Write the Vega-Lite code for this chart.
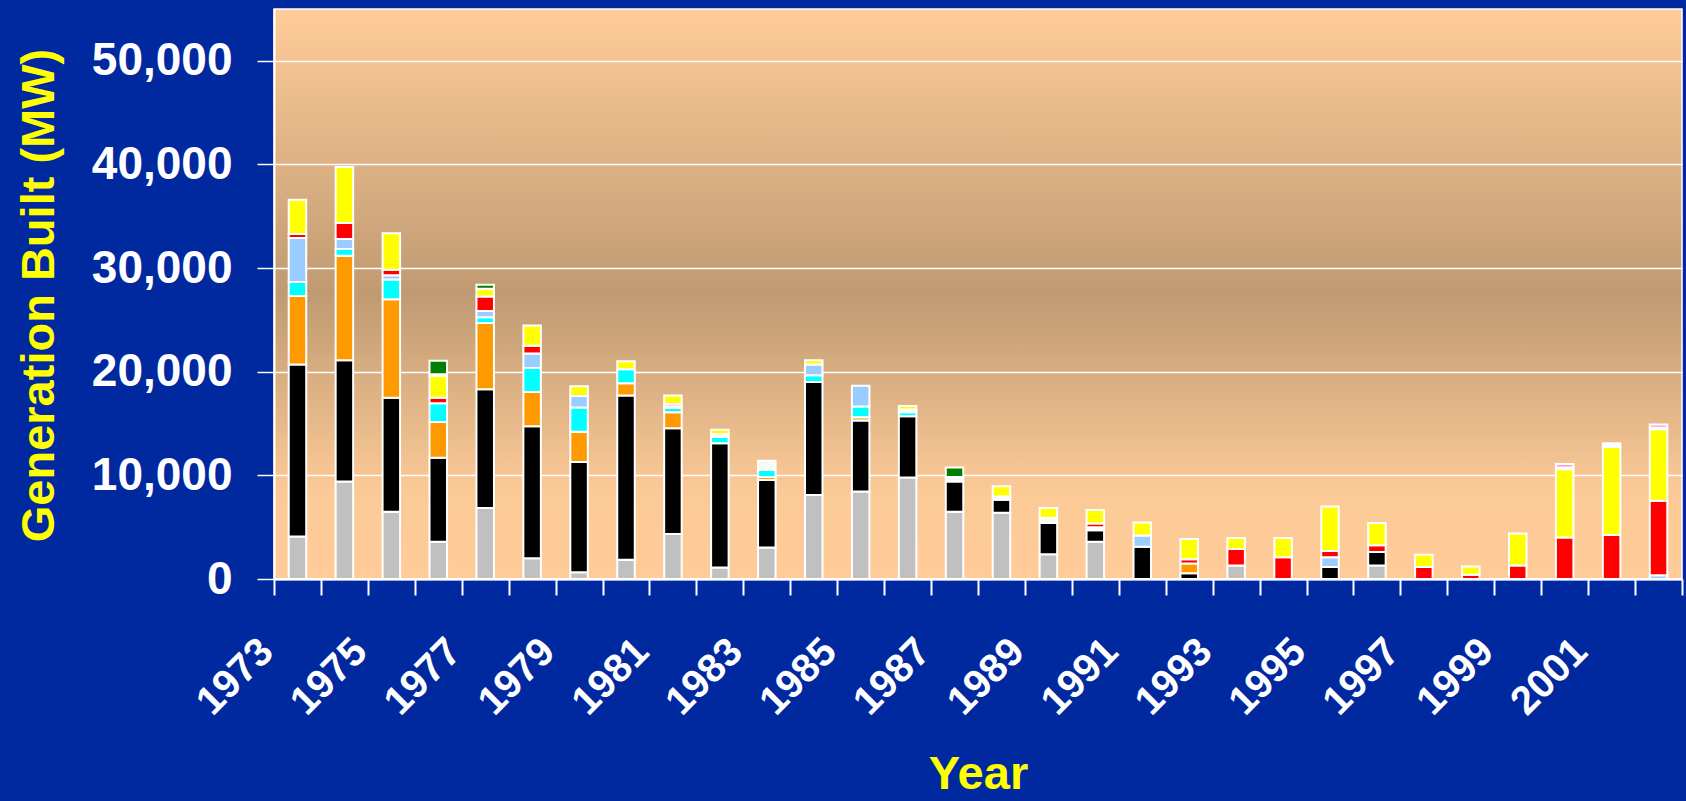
{
  "$schema": "https://vega.github.io/schema/vega-lite/v6.json",
  "width": 1408,
  "height": 570,
  "autosize": {"type": "none"},
  "padding": {"left": 274, "top": 9, "right": 4, "bottom": 222},
  "background": "#00289F",
  "config": {
    "view": {
      "fill": {"gradient": "linear", "x1": 0, "y1": 0, "x2": 0, "y2": 1,
        "stops": [
          {"offset": 0, "color": "#FFCC99"},
          {"offset": 0.5, "color": "#C09A72"},
          {"offset": 0.85, "color": "#FCCA97"},
          {"offset": 1, "color": "#FFCC99"}
        ]},
      "stroke": "#FFFFFF",
      "strokeWidth": 1.5
    },
    "font": "Liberation Sans"
  },
  "data": {
    "values": [
      {"year": 1973, "type": "Nuclear", "mw": 4100},
      {"year": 1973, "type": "Coal", "mw": 16600},
      {"year": 1973, "type": "Oil", "mw": 6600},
      {"year": 1973, "type": "Hydro", "mw": 1350},
      {"year": 1973, "type": "Pumped Storage", "mw": 4250},
      {"year": 1973, "type": "Combined Cycle", "mw": 400},
      {"year": 1973, "type": "Combustion Turbine", "mw": 3300},
      {"year": 1974, "type": "Nuclear", "mw": 9400},
      {"year": 1974, "type": "Coal", "mw": 11700},
      {"year": 1974, "type": "Oil", "mw": 10100},
      {"year": 1974, "type": "Hydro", "mw": 650},
      {"year": 1974, "type": "Pumped Storage", "mw": 950},
      {"year": 1974, "type": "Combined Cycle", "mw": 1550},
      {"year": 1974, "type": "Combustion Turbine", "mw": 5400},
      {"year": 1975, "type": "Nuclear", "mw": 6500},
      {"year": 1975, "type": "Coal", "mw": 11000},
      {"year": 1975, "type": "Oil", "mw": 9500},
      {"year": 1975, "type": "Hydro", "mw": 1900},
      {"year": 1975, "type": "Pumped Storage", "mw": 400},
      {"year": 1975, "type": "Combined Cycle", "mw": 550},
      {"year": 1975, "type": "Combustion Turbine", "mw": 3500},
      {"year": 1976, "type": "Nuclear", "mw": 3600},
      {"year": 1976, "type": "Coal", "mw": 8100},
      {"year": 1976, "type": "Oil", "mw": 3450},
      {"year": 1976, "type": "Hydro", "mw": 1800},
      {"year": 1976, "type": "Combined Cycle", "mw": 550},
      {"year": 1976, "type": "Combustion Turbine", "mw": 2100},
      {"year": 1976, "type": "Miscellaneous", "mw": 150},
      {"year": 1976, "type": "Geothermal", "mw": 1300},
      {"year": 1977, "type": "Nuclear", "mw": 6850},
      {"year": 1977, "type": "Coal", "mw": 11450},
      {"year": 1977, "type": "Oil", "mw": 6400},
      {"year": 1977, "type": "Hydro", "mw": 550},
      {"year": 1977, "type": "Pumped Storage", "mw": 600},
      {"year": 1977, "type": "Combined Cycle", "mw": 1400},
      {"year": 1977, "type": "Combustion Turbine", "mw": 750},
      {"year": 1977, "type": "Geothermal", "mw": 400},
      {"year": 1978, "type": "Nuclear", "mw": 2000},
      {"year": 1978, "type": "Coal", "mw": 12750},
      {"year": 1978, "type": "Oil", "mw": 3300},
      {"year": 1978, "type": "Hydro", "mw": 2300},
      {"year": 1978, "type": "Pumped Storage", "mw": 1400},
      {"year": 1978, "type": "Combined Cycle", "mw": 750},
      {"year": 1978, "type": "Combustion Turbine", "mw": 1950},
      {"year": 1979, "type": "Nuclear", "mw": 650},
      {"year": 1979, "type": "Coal", "mw": 10650},
      {"year": 1979, "type": "Oil", "mw": 2900},
      {"year": 1979, "type": "Hydro", "mw": 2350},
      {"year": 1979, "type": "Pumped Storage", "mw": 1100},
      {"year": 1979, "type": "Combustion Turbine", "mw": 950},
      {"year": 1980, "type": "Nuclear", "mw": 1850},
      {"year": 1980, "type": "Coal", "mw": 15850},
      {"year": 1980, "type": "Oil", "mw": 1200},
      {"year": 1980, "type": "Hydro", "mw": 1350},
      {"year": 1980, "type": "Combustion Turbine", "mw": 750},
      {"year": 1981, "type": "Nuclear", "mw": 4350},
      {"year": 1981, "type": "Coal", "mw": 10200},
      {"year": 1981, "type": "Oil", "mw": 1550},
      {"year": 1981, "type": "Hydro", "mw": 400},
      {"year": 1981, "type": "Pumped Storage", "mw": 150},
      {"year": 1981, "type": "Combined Cycle", "mw": 200},
      {"year": 1981, "type": "Combustion Turbine", "mw": 850},
      {"year": 1982, "type": "Nuclear", "mw": 1100},
      {"year": 1982, "type": "Coal", "mw": 12000},
      {"year": 1982, "type": "Hydro", "mw": 600},
      {"year": 1982, "type": "Other", "mw": 300},
      {"year": 1982, "type": "Combustion Turbine", "mw": 400},
      {"year": 1983, "type": "Nuclear", "mw": 3050},
      {"year": 1983, "type": "Coal", "mw": 6500},
      {"year": 1983, "type": "Oil", "mw": 300},
      {"year": 1983, "type": "Hydro", "mw": 700},
      {"year": 1983, "type": "Other", "mw": 850},
      {"year": 1984, "type": "Nuclear", "mw": 8100},
      {"year": 1984, "type": "Coal", "mw": 10900},
      {"year": 1984, "type": "Hydro", "mw": 650},
      {"year": 1984, "type": "Pumped Storage", "mw": 1050},
      {"year": 1984, "type": "Combustion Turbine", "mw": 400},
      {"year": 1985, "type": "Nuclear", "mw": 8450},
      {"year": 1985, "type": "Coal", "mw": 6850},
      {"year": 1985, "type": "Oil", "mw": 300},
      {"year": 1985, "type": "Hydro", "mw": 1050},
      {"year": 1985, "type": "Pumped Storage", "mw": 2000},
      {"year": 1986, "type": "Nuclear", "mw": 9800},
      {"year": 1986, "type": "Coal", "mw": 5900},
      {"year": 1986, "type": "Hydro", "mw": 400},
      {"year": 1986, "type": "Other", "mw": 250},
      {"year": 1986, "type": "Combustion Turbine", "mw": 350},
      {"year": 1987, "type": "Nuclear", "mw": 6500},
      {"year": 1987, "type": "Coal", "mw": 2900},
      {"year": 1987, "type": "Other", "mw": 450},
      {"year": 1987, "type": "Geothermal", "mw": 900},
      {"year": 1988, "type": "Nuclear", "mw": 6400},
      {"year": 1988, "type": "Coal", "mw": 1250},
      {"year": 1988, "type": "Other", "mw": 300},
      {"year": 1988, "type": "Combustion Turbine", "mw": 1000},
      {"year": 1989, "type": "Nuclear", "mw": 2400},
      {"year": 1989, "type": "Coal", "mw": 3000},
      {"year": 1989, "type": "Other", "mw": 500},
      {"year": 1989, "type": "Combustion Turbine", "mw": 950},
      {"year": 1990, "type": "Nuclear", "mw": 3600},
      {"year": 1990, "type": "Coal", "mw": 1100},
      {"year": 1990, "type": "Other", "mw": 300},
      {"year": 1990, "type": "Combined Cycle", "mw": 350},
      {"year": 1990, "type": "Combustion Turbine", "mw": 1300},
      {"year": 1991, "type": "Coal", "mw": 3100},
      {"year": 1991, "type": "Pumped Storage", "mw": 1100},
      {"year": 1991, "type": "Combustion Turbine", "mw": 1250},
      {"year": 1992, "type": "Coal", "mw": 550},
      {"year": 1992, "type": "Oil", "mw": 950},
      {"year": 1992, "type": "Combined Cycle", "mw": 400},
      {"year": 1992, "type": "Combustion Turbine", "mw": 1950},
      {"year": 1993, "type": "Nuclear", "mw": 1300},
      {"year": 1993, "type": "Combined Cycle", "mw": 1600},
      {"year": 1993, "type": "Combustion Turbine", "mw": 1050},
      {"year": 1994, "type": "Combined Cycle", "mw": 2100},
      {"year": 1994, "type": "Combustion Turbine", "mw": 1850},
      {"year": 1995, "type": "Coal", "mw": 1150},
      {"year": 1995, "type": "Pumped Storage", "mw": 950},
      {"year": 1995, "type": "Combined Cycle", "mw": 600},
      {"year": 1995, "type": "Combustion Turbine", "mw": 4300},
      {"year": 1996, "type": "Nuclear", "mw": 1300},
      {"year": 1996, "type": "Coal", "mw": 1300},
      {"year": 1996, "type": "Combined Cycle", "mw": 650},
      {"year": 1996, "type": "Combustion Turbine", "mw": 2150},
      {"year": 1997, "type": "Combined Cycle", "mw": 1150},
      {"year": 1997, "type": "Combustion Turbine", "mw": 1200},
      {"year": 1998, "type": "Combined Cycle", "mw": 400},
      {"year": 1998, "type": "Combustion Turbine", "mw": 800},
      {"year": 1999, "type": "Combined Cycle", "mw": 1300},
      {"year": 1999, "type": "Combustion Turbine", "mw": 3100},
      {"year": 2000, "type": "Combined Cycle", "mw": 4000},
      {"year": 2000, "type": "Combustion Turbine", "mw": 6600},
      {"year": 2000, "type": "Miscellaneous", "mw": 150},
      {"year": 2000, "type": "Wind", "mw": 350},
      {"year": 2001, "type": "Combined Cycle", "mw": 4250},
      {"year": 2001, "type": "Combustion Turbine", "mw": 8500},
      {"year": 2001, "type": "Miscellaneous", "mw": 350},
      {"year": 2002, "type": "Pumped Storage", "mw": 350},
      {"year": 2002, "type": "Combined Cycle", "mw": 7200},
      {"year": 2002, "type": "Combustion Turbine", "mw": 6900},
      {"year": 2002, "type": "Miscellaneous", "mw": 150},
      {"year": 2002, "type": "Wind", "mw": 300}
    ]
  },
  "transform": [
    {"calculate": "indexof(['Nuclear','Coal','Oil','Hydro','Pumped Storage','Other','Combined Cycle','Combustion Turbine','Miscellaneous','Wind','Geothermal'], datum.type)", "as": "k"}
  ],
  "mark": {"type": "bar", "stroke": "#FFFFFF", "strokeWidth": 2, "size": 17.5},
  "encoding": {
    "x": {
      "field": "year",
      "type": "ordinal",
      "scale": {"paddingInner": 0, "paddingOuter": 0},
      "axis": {
        "title": "Year",
        "titleColor": "#FFFF00",
        "titleFont": "Liberation Sans",
        "titleFontSize": 47,
        "titleFontWeight": "bold",
        "titleAnchor": "middle",
        "titleBaseline": "alphabetic",
        "titleX": 704,
        "titleY": 209,
        "labelExpr": "datum.value % 2 == 1 ? datum.label : ''",
        "labelAngle": -45,
        "labelAlign": "right",
        "labelBaseline": "middle",
        "labelOffset": -31,
        "labelPadding": 50,
        "labelOverlap": false,
        "labelColor": "#FFFFFF",
        "labelFont": "Liberation Sans",
        "labelFontSize": 40,
        "labelFontWeight": "bold",
        "tickBand": "extent",
        "tickColor": "#FFFFFF",
        "tickSize": 16,
        "tickWidth": 2,
        "domainColor": "#FFFFFF",
        "domainWidth": 2
      }
    },
    "y": {
      "field": "mw",
      "type": "quantitative",
      "aggregate": "sum",
      "stack": "zero",
      "scale": {"domain": [0, 55000], "nice": false},
      "axis": {
        "title": "Generation Built (MW)",
        "titleColor": "#FFFF00",
        "titleFont": "Liberation Sans",
        "titleFontSize": 47,
        "titleFontWeight": "bold",
        "titleAngle": -90,
        "titleAlign": "center",
        "titleBaseline": "alphabetic",
        "titleX": -221,
        "titleY": 286,
        "values": [0, 10000, 20000, 30000, 40000, 50000],
        "format": ",d",
        "labelColor": "#FFFFFF",
        "labelFont": "Liberation Sans",
        "labelFontSize": 46,
        "labelFontWeight": "bold",
        "labelPadding": 25,
        "tickColor": "#FFFFFF",
        "tickSize": 17,
        "tickWidth": 1.5,
        "grid": true,
        "gridColor": "#FFFFFF",
        "gridWidth": 1.5,
        "gridOpacity": 1,
        "domainColor": "#FFFFFF",
        "domainWidth": 2
      }
    },
    "color": {
      "field": "type",
      "type": "nominal",
      "scale": {
        "domain": ["Nuclear", "Coal", "Oil", "Hydro", "Pumped Storage", "Other", "Combined Cycle", "Combustion Turbine", "Miscellaneous", "Wind", "Geothermal"],
        "range": ["#C0C0C0", "#000000", "#FF9900", "#00FFFF", "#99CCFF", "#F4FAF4", "#FF0000", "#FFFF00", "#FFFFFF", "#FF99CC", "#008000"]
      },
      "legend": null
    },
    "order": {"field": "k", "type": "quantitative", "sort": "ascending"}
  }
}
